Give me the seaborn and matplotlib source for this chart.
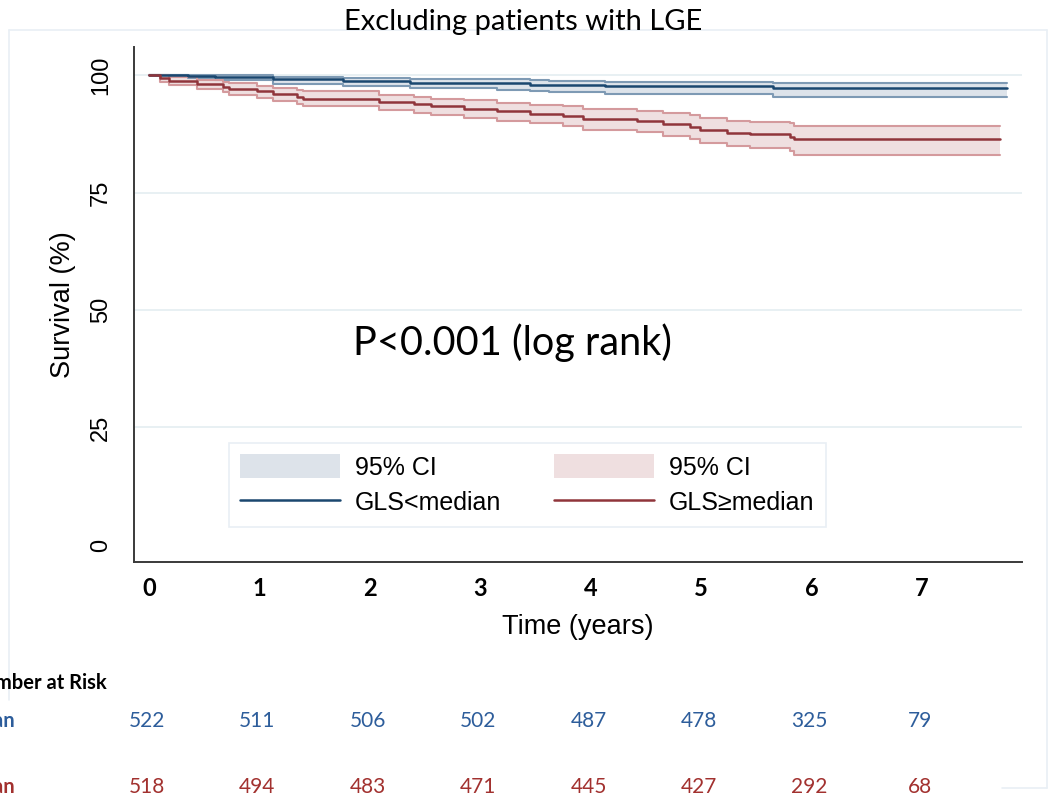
import matplotlib
matplotlib.use("Agg")
import matplotlib.pyplot as plt
from matplotlib.patches import Patch
from matplotlib.lines import Line2D
from matplotlib.transforms import blended_transform_factory
import seaborn as sns
import pandas as pd

# ---------------- data ----------------
years = [0, 1, 2, 3, 4, 5, 6, 7]
y_ticks = [0, 25, 50, 75, 100]

low_t = [0, 0.35, 0.6, 1.12, 1.76, 2.36, 3.15, 3.45, 3.62, 4.13, 5.65, 7.77]
low_s = [100, 99.8, 99.6, 99.1, 98.8, 98.4, 98.2, 97.9, 97.8, 97.7, 97.3, 97.3]
low_lo = [100, 99.4, 98.9, 98.1, 97.6, 97.2, 96.9, 96.6, 96.3, 96.0, 95.4, 95.4]
low_hi = [100, 100, 99.9, 99.6, 99.4, 99.2, 99.1, 98.9, 98.8, 98.6, 98.4, 98.4]

high_t = [0, 0.1, 0.18, 0.43, 0.67, 0.72, 0.98, 1.12, 1.34, 1.39, 2.08, 2.4, 2.55,
          2.85, 3.15, 3.45, 3.75, 3.93, 4.42, 4.65, 4.9, 4.99, 5.23, 5.44, 5.8, 5.84, 7.71]
high_s = [100, 99.3, 98.8, 98.1, 97.5, 97.0, 96.5, 96.0, 95.4, 94.9, 94.3, 93.8, 93.4,
          92.8, 92.3, 91.8, 91.3, 90.6, 90.2, 89.6, 89.0, 88.3, 87.7, 87.4, 86.9, 86.3, 86.3]
high_lo = [100, 98.5, 97.9, 97.0, 96.3, 95.8, 95.1, 94.5, 93.8, 93.3, 92.5, 91.9, 91.5,
           90.9, 90.3, 89.7, 89.1, 88.3, 87.8, 87.1, 86.4, 85.5, 84.8, 84.4, 83.8, 83.0, 83.0]
high_hi = [100, 99.9, 99.6, 99.0, 98.5, 98.2, 97.7, 97.3, 96.9, 96.5, 95.8, 95.4, 95.0,
           94.6, 94.1, 93.7, 93.3, 92.7, 92.4, 91.9, 91.4, 90.9, 90.3, 90.0, 89.7, 89.1, 89.1]

risk_low = [522, 511, 506, 502, 487, 478, 325, 79]
risk_high = [518, 494, 483, 471, 445, 427, 292, 68]

group_labels = ["GLS<median", "GLS\u2265median"]

# ---------------- style ----------------
sns.set_theme(style="white")
plt.rcParams["font.family"] = ["Liberation Sans", "DejaVu Sans"]
plt.rcParams["text.color"] = "black"
plt.rcParams["axes.labelcolor"] = "black"

BLUE = "#1a476f"
RED = "#90353b"
BLUE_FILL = "#dde3ea"
RED_FILL = "#efdfe0"
BLUE_EDGE = "#7e9ab4"
RED_EDGE = "#d49a9d"
GRID = "#e4eef1"
AXC = "#3a3a3a"

W, H = 1050, 800
fig = plt.figure(figsize=(W / 100, H / 100), dpi=100)
fig.patch.set_facecolor("white")

def fx(px):
    return px / W

def fy(py):
    return 1 - py / H

ax = fig.add_axes([fx(134), fy(562), fx(1022) - fx(134), fy(47) - fy(562)])
ax.set_facecolor("white")

x0, x1 = -0.136, 7.905
y0, y1 = -3.62, 105.96
ax.set_xlim(x0, x1)
ax.set_ylim(y0, y1)

for yt in y_ticks[1:]:
    ax.axhline(yt, color=GRID, lw=1.2, zorder=0)

# CI bands
ax.fill_between(low_t, low_lo, low_hi, step="post", color=BLUE_FILL, lw=0, zorder=1)
ax.fill_between(high_t, high_lo, high_hi, step="post", color=RED_FILL, lw=0, zorder=1)

def steps(t, v, color, lw, z):
    df = pd.DataFrame({"t": t, "v": v})
    sns.lineplot(data=df, x="t", y="v", ax=ax, color=color, lw=lw,
                 drawstyle="steps-post", estimator=None, sort=False, zorder=z)

steps(low_t, low_lo, BLUE_EDGE, 1.5, 2)
steps(low_t, low_hi, BLUE_EDGE, 1.5, 2)
steps(high_t, high_lo, RED_EDGE, 1.5, 2)
steps(high_t, high_hi, RED_EDGE, 1.5, 2)
steps(low_t, low_s, BLUE, 1.8, 3)
steps(high_t, high_s, RED, 1.8, 3)

# axes styling
for s in ["top", "right"]:
    ax.spines[s].set_visible(False)
for s in ["left", "bottom"]:
    ax.spines[s].set_color(AXC)
    ax.spines[s].set_linewidth(1.4)

ax.set_xticks(years)
ax.set_xticklabels([str(y) for y in years], family=["Lato", "DejaVu Sans"],
                   fontsize=17, fontweight="bold")
ax.set_yticks(y_ticks)
ax.set_yticklabels([str(y) for y in y_ticks], rotation=90, va="center", fontsize=17)
ax.tick_params(axis="x", length=8, width=1.4, color=AXC, pad=3, labelcolor="black")
ax.tick_params(axis="y", length=10, width=1.4, color=AXC, pad=6, labelcolor="black")
ax.set_xlabel("Time (years)", fontsize=19.5, labelpad=10, color="black")
ax.set_ylabel("Survival (%)", fontsize=19.5, labelpad=10, color="black")

# legend
handles = [
    Patch(facecolor=BLUE_FILL, edgecolor="none"),
    Line2D([], [], color=BLUE, lw=1.8),
    Patch(facecolor=RED_FILL, edgecolor="none"),
    Line2D([], [], color=RED, lw=1.8),
]
labels = ["95% CI", group_labels[0], "95% CI", group_labels[1]]
leg = ax.legend(handles, labels, ncol=2, loc="upper left",
                bbox_to_anchor=(fx(229), fy(443)), bbox_transform=fig.transFigure,
                borderaxespad=0, fontsize=18, frameon=True, fancybox=False,
                handlelength=4.0, handleheight=1.1, handletextpad=0.6,
                columnspacing=2.1, labelspacing=0.4, borderpad=0.45)
leg.get_frame().set_edgecolor("#e3ebf2")
leg.get_frame().set_linewidth(1.2)
for t in leg.get_texts():
    t.set_color("black")

# annotations
ax.text(3.29, 43.0, "P<0.001 (log rank)", family=["Lato", "DejaVu Sans"],
        fontsize=28.5, ha="center", va="center", color="black")
fig.text(fx(523), fy(22), "Excluding patients with LGE", family=["Lato", "DejaVu Sans"],
         fontsize=21, ha="center", va="center", color="black")

# number at risk table
tr = blended_transform_factory(ax.transData, fig.transFigure)
fig.text(fx(107), fy(683), "Number at Risk", family=["Lato", "DejaVu Sans"],
         fontsize=14.5, fontweight="bold", ha="right", va="center", color="black")
row_colors = ["#2d5d9b", "#a2312f"]
row_y = [fy(721), fy(787)]
for lab, col, yy in zip(group_labels, row_colors, row_y):
    fig.text(fx(15), yy, lab, family=["Lato", "DejaVu Sans"], fontsize=14.5,
             fontweight="bold", ha="right", va="center", color=col)
for vals, col, yy in zip([risk_low, risk_high], row_colors, row_y):
    for yr, v in zip(years, vals):
        ax.text(yr - 0.02, yy, str(v), transform=tr, family=["Lato", "DejaVu Sans"],
                fontsize=15, ha="center", va="center", color=col, clip_on=False)

# faint outer frame
fc = "#e9eff5"
fig.add_artist(Line2D([fx(9), fx(1047)], [fy(30), fy(30)], color=fc, lw=1.2))
fig.add_artist(Line2D([fx(1047), fx(1047)], [fy(30), fy(788)], color=fc, lw=1.2))
fig.add_artist(Line2D([fx(1002), fx(1047)], [fy(788), fy(788)], color=fc, lw=1.2))
fig.add_artist(Line2D([fx(9), fx(9)], [fy(30), fy(700)], color=fc, lw=1.2))

fig.savefig("out.png", dpi=100, facecolor="white")
